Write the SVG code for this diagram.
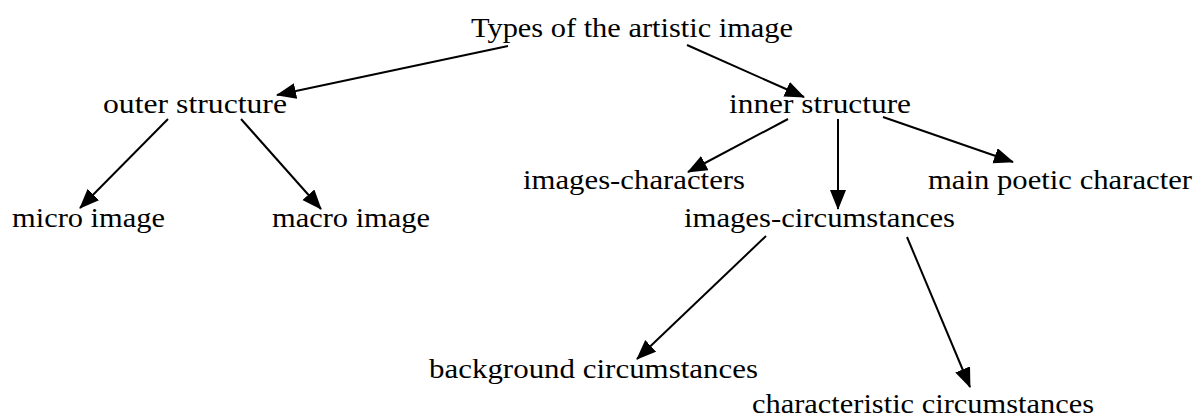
<svg xmlns="http://www.w3.org/2000/svg" width="1197" height="417" viewBox="0 0 1197 417">
<defs>
<style>
text{font-family:"Liberation Serif","Times New Roman",serif;font-size:28px;fill:#000;}
.c{stroke:#000;stroke-width:2;fill:none;marker-end:url(#ah);}
</style>
<marker id="ah" markerUnits="userSpaceOnUse" markerWidth="22" markerHeight="18" refX="19" refY="8" orient="auto" viewBox="0 0 22 18">
<path d="M0,0 L20,8 L0,16 z" fill="#000"/>
</marker>
</defs>
<rect width="1197" height="417" fill="#fff"/>
<g id="connectors">
<line class="c" x1="508" y1="46" x2="277" y2="95"/>
<line class="c" x1="687" y1="45" x2="804" y2="97"/>
<line class="c" x1="168" y1="119" x2="80" y2="208"/>
<line class="c" x1="241" y1="119" x2="321" y2="209"/>
<line class="c" x1="788" y1="119" x2="688" y2="172"/>
<line class="c" x1="838" y1="119" x2="838" y2="209"/>
<line class="c" x1="883" y1="117" x2="1013" y2="162"/>
<line class="c" x1="766" y1="236" x2="637" y2="359"/>
<line class="c" x1="907" y1="237" x2="970" y2="387"/>
</g>
<g id="n-title"><text x="471" y="37" textLength="322" lengthAdjust="spacingAndGlyphs">Types of the artistic image</text></g>
<g id="n-outer"><text x="103" y="113" textLength="184" lengthAdjust="spacingAndGlyphs">outer structure</text></g>
<g id="n-inner"><text x="729" y="113" textLength="182" lengthAdjust="spacingAndGlyphs">inner structure</text></g>
<g id="n-micro"><text x="12" y="227" textLength="153" lengthAdjust="spacingAndGlyphs">micro image</text></g>
<g id="n-macro"><text x="272" y="227" textLength="158" lengthAdjust="spacingAndGlyphs">macro image</text></g>
<g id="n-chars"><text x="523" y="189" textLength="222" lengthAdjust="spacingAndGlyphs">images-characters</text></g>
<g id="n-main"><text x="928" y="189" textLength="264" lengthAdjust="spacingAndGlyphs">main poetic character</text></g>
<g id="n-circ"><text x="684" y="227" textLength="271" lengthAdjust="spacingAndGlyphs">images-circumstances</text></g>
<g id="n-bg"><text x="429" y="378" textLength="329" lengthAdjust="spacingAndGlyphs">background circumstances</text></g>
<g id="n-char"><text x="752" y="413" textLength="342" lengthAdjust="spacingAndGlyphs">characteristic circumstances</text></g>
</svg>
